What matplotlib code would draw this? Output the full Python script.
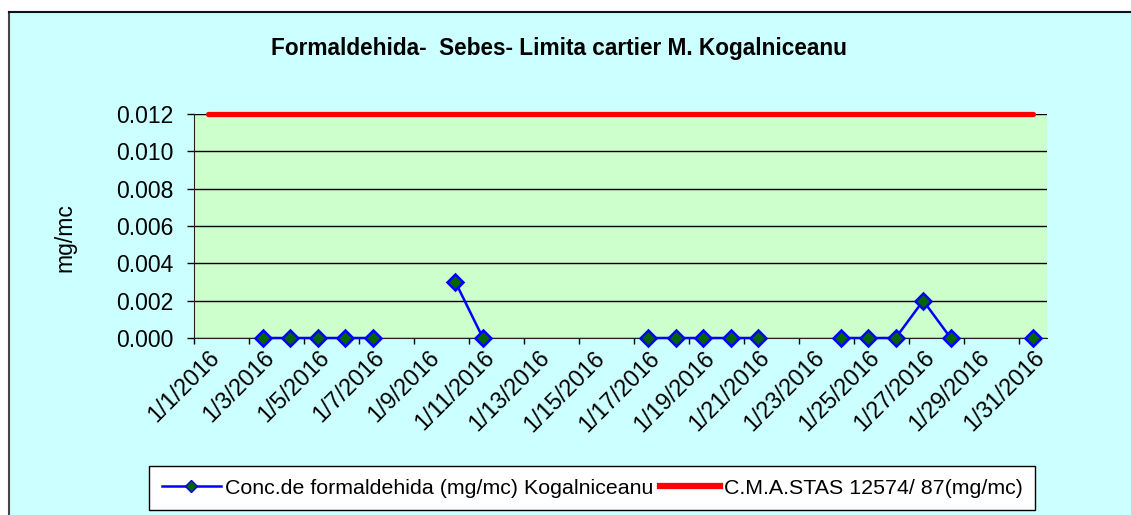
import numpy as np
import matplotlib

matplotlib.use("Agg")
import matplotlib.pyplot as plt
from matplotlib.lines import Line2D
from matplotlib.patches import Rectangle
from matplotlib.ticker import FixedLocator, FormatStrFormatter

plt.rcParams["font.family"] = ["Liberation Sans", "DejaVu Sans"]

# data: one category per day of January 2016
days = np.arange(1, 32)
day_labels = [f"1/{d}/2016" for d in days]
nan = np.nan
conc = [nan, nan, 0, 0, 0, 0, 0, nan, nan, 0.003, 0,
        nan, nan, nan, nan, nan, 0, 0, 0, 0, 0,
        nan, nan, 0, 0, 0, 0.002, 0, nan, nan, 0]
limit = [0.012] * 31
y_ticks = [0.000, 0.002, 0.004, 0.006, 0.008, 0.010, 0.012]

title = "Formaldehida-  Sebes- Limita cartier M. Kogalniceanu"
conc_name = "Conc.de formaldehida (mg/mc) Kogalniceanu"
limit_name = "C.M.A.STAS 12574/ 87(mg/mc)"

W, H = 1131, 515
fig = plt.figure(figsize=(W / 100, H / 100), dpi=100, facecolor="white")

# chart area background with its left/top border
bg = Rectangle((9 / W, 0), 1 - 9 / W, 1 - 12 / H, transform=fig.transFigure,
               facecolor="#CCFFFF", edgecolor="none", zorder=-10)
fig.patches.append(bg)
fig.add_artist(Line2D([9 / W, 9 / W], [0, 1 - 12 / H], color="#444444", lw=1.5))
fig.add_artist(Line2D([9 / W, 1], [1 - 12 / H, 1 - 12 / H], color="#111111", lw=1.5))

ax = fig.add_axes([194 / W, 177 / H, 853 / W, 224 / H])
ax.set_facecolor("#CCFFCC")

ax.plot(days, limit, color="#FF0000", lw=3.8, solid_capstyle="round",
        clip_on=False, zorder=3)
ax.plot(days, conc, color="#0000FF", lw=1.8, marker="D", markersize=8,
        markerfacecolor="#006400", markeredgecolor="#0000FF", markeredgewidth=1.8,
        clip_on=False, zorder=4)

ax.set_xlim(0.5, 31.5)
ax.set_ylim(0, 0.012)

ax.yaxis.set_major_locator(FixedLocator(y_ticks))
ax.yaxis.set_major_formatter(FormatStrFormatter("%.3f"))
ax.grid(axis="y", color="black", lw=1, zorder=1)
ax.set_axisbelow(True)

# tick marks at category boundaries, labels on every other category
ax.xaxis.set_major_locator(FixedLocator(np.arange(0.5, 31, 2)))
ax.xaxis.set_major_formatter(plt.NullFormatter())
ax.xaxis.set_minor_locator(FixedLocator(days[::2]))
ax.set_xticklabels(day_labels[::2], minor=True)
ax.tick_params(axis="x", which="major", length=4, width=1, direction="out")
ax.tick_params(axis="x", which="minor", length=0, pad=6, labelsize=16.8)
for lab in ax.get_xticklabels(minor=True):
    lab.set_rotation(45)
    lab.set_ha("right")
    lab.set_va("top")
    lab.set_rotation_mode("anchor")
ax.tick_params(axis="y", length=5, width=1, labelsize=16.5, pad=10)

for side in ("top", "right"):
    ax.spines[side].set_visible(False)
ax.spines["left"].set_color("#222222")
ax.spines["bottom"].set_color("#222222")

fig.text(65 / W, 1 - 238 / H, "mg/mc", rotation=90, ha="center", va="center",
         fontsize=16.5)

fig.text(559 / W, 1 - 49 / H, title, ha="center", va="center",
         fontsize=16.3, fontweight="bold")

handles = [
    Line2D([], [], color="#0000FF", lw=1.8, marker="D", markersize=6,
           markerfacecolor="#006400", markeredgecolor="#0000FF"),
    Line2D([], [], color="#FF0000", lw=4.5),
]
leg = fig.legend(handles, [conc_name, limit_name], loc="center",
                 bbox_to_anchor=(592 / W, 1 - 488 / H), ncol=2, fontsize=15.4,
                 frameon=True, fancybox=False, edgecolor="black",
                 framealpha=1, handlelength=2.8, handletextpad=0.15,
                 columnspacing=0.35, borderpad=0.6, borderaxespad=0)
leg.get_frame().set_linewidth(1)

fig.savefig("out.png", dpi=100, facecolor=fig.get_facecolor())
